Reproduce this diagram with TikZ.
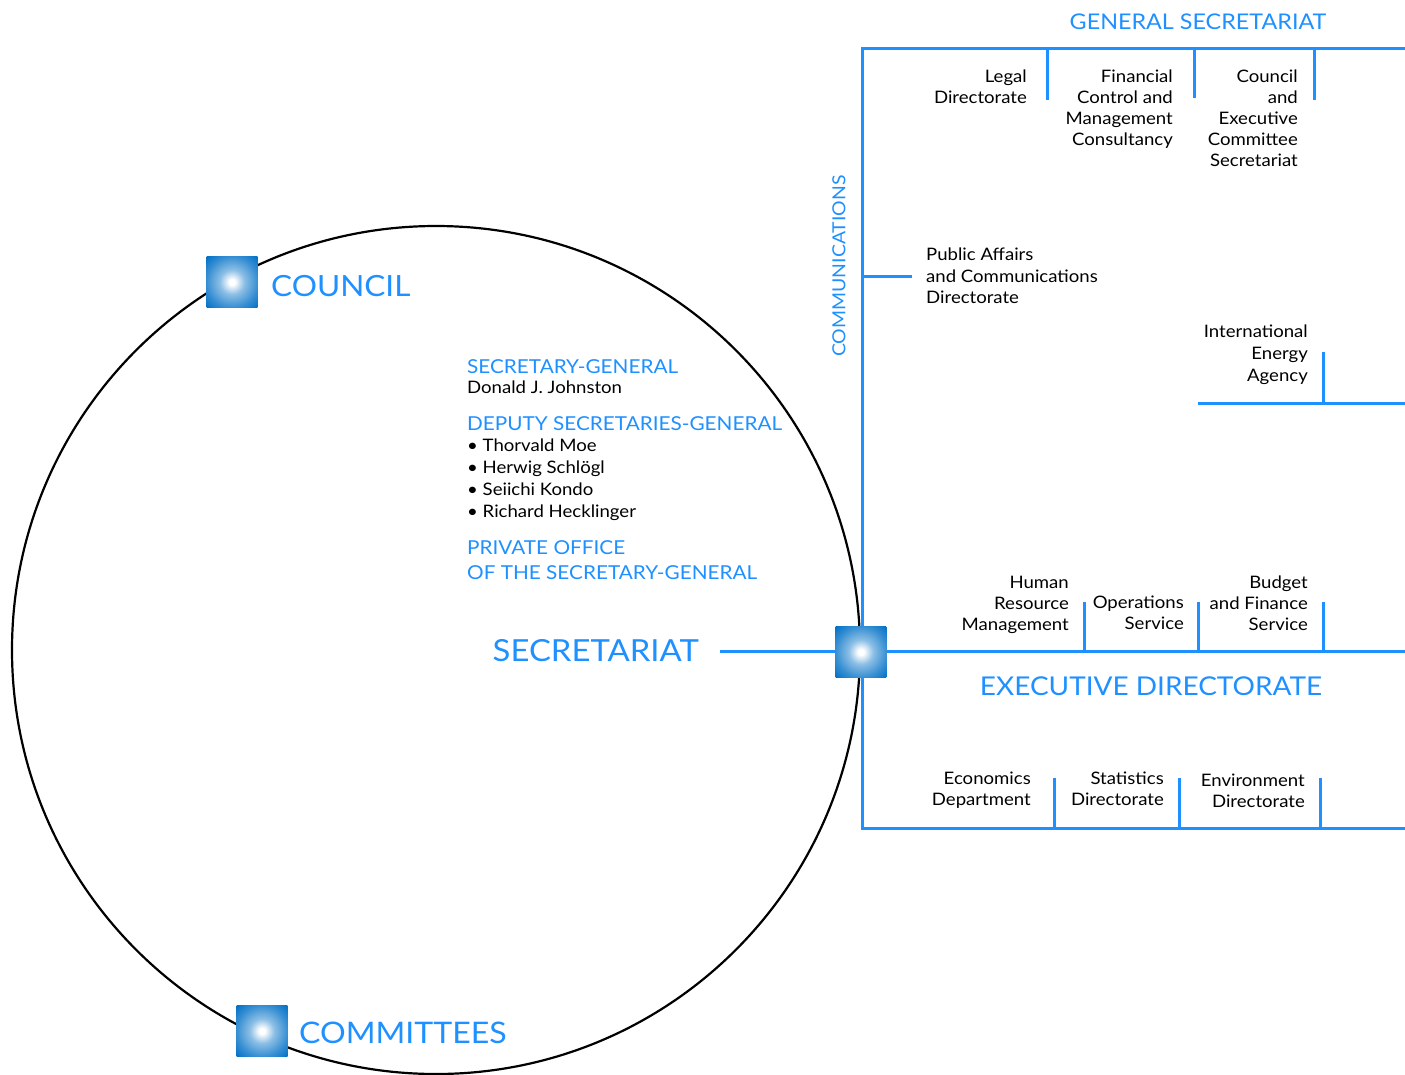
\documentclass[tikz,border=0pt]{standalone}
\usepackage{fontspec}
\setmainfont{Lato}[FakeStretch=1.08]
\definecolor{oblue}{RGB}{30,144,255}
\definecolor{sqblue}{RGB}{0,112,198}
\pgfdeclareradialshading{sqshade}{\pgfpoint{0bp}{0bp}}{color(0bp)=(white); color(2bp)=(white); color(8.5bp)=(sqblue!45!white); color(17.5bp)=(sqblue!78!white); color(25bp)=(sqblue); color(50bp)=(sqblue)}
\begin{document}
\begin{tikzpicture}[x=1pt,y=-1pt,
  lblr/.style={inner sep=0pt, font=\fontsize{17.2}{21}\selectfont, align=right, anchor=north east},
  lbll/.style={inner sep=0pt, font=\fontsize{17.2}{21.5}\selectfont, align=left, anchor=north west},
  big/.style={inner sep=0pt, text=oblue},
  hdr/.style={inner sep=0pt, text=oblue, font=\fontsize{21.6}{25}\selectfont},
  midb/.style={inner sep=0pt, text=oblue, font=\fontsize{19.2}{22}\selectfont, anchor=base west},
  midk/.style={inner sep=0pt, font=\fontsize{17.2}{21}\selectfont, anchor=base west},
  org/.style={draw=oblue, line width=3pt},
  ring/.style={draw=black, line width=2.2pt},
  sq/.style={minimum size=51pt, inner sep=0pt,
    path picture={\shade[shading=sqshade] (path picture bounding box.center) circle[radius=36.07pt];}}]
\useasboundingbox (0,0) rectangle (1405,1074);

% ring
\node[inner sep=0pt, minimum size=848pt, circle, ring] (ringc) at (436,650) {};

% coordinates of the organisation frame
\coordinate (tr) at (1405,48);
\coordinate (tl) at (862,48);
\coordinate (bl) at (862,828);
\coordinate (br) at (1405,828);
\coordinate (secl) at (720,651);
\coordinate (secr) at (1405,651);
\coordinate (comm) at (912,276);
\coordinate (comj) at (862,276);
\coordinate (ieal) at (1198,403);
\coordinate (iear) at (1405,403);

\draw[org, line join=miter] (tr) -- (tl) -- (bl) -- (br);
\draw[org] (comj) -- (comm);
\draw[org] (ieal) -- (iear);
\draw[org] (secl) -- (secr);

% ticks top
\coordinate (t1a) at (1047,48); \coordinate (t1b) at (1047,100);
\coordinate (t2a) at (1194,48); \coordinate (t2b) at (1194,98);
\coordinate (t3a) at (1314,48); \coordinate (t3b) at (1314,100);
\draw[org] (t1a) -- (t1b); \draw[org] (t2a) -- (t2b); \draw[org] (t3a) -- (t3b);
% IEA tick
\coordinate (t4a) at (1323,403); \coordinate (t4b) at (1323,352);
\draw[org] (t4a) -- (t4b);
% ticks middle
\coordinate (t5a) at (1084,651); \coordinate (t5b) at (1084,602);
\coordinate (t6a) at (1198,651); \coordinate (t6b) at (1198,602);
\coordinate (t7a) at (1323,651); \coordinate (t7b) at (1323,602);
\draw[org] (t5a) -- (t5b); \draw[org] (t6a) -- (t6b); \draw[org] (t7a) -- (t7b);
% ticks bottom
\coordinate (t8a) at (1054,828); \coordinate (t8b) at (1054,778);
\coordinate (t9a) at (1179,828); \coordinate (t9b) at (1179,778);
\coordinate (t10a) at (1320,828); \coordinate (t10b) at (1320,778);
\draw[org] (t8a) -- (t8b); \draw[org] (t9a) -- (t9b); \draw[org] (t10a) -- (t10b);

% squares
\node[sq] (councilsq) at (232,282) {};
\node[sq] (committeessq) at (262,1031) {};
\node[sq] (secsq) at (861,652) {};

% big labels
\node[big, anchor=west, font=\fontsize{29.2}{34}\selectfont] (council) at (271,286) {COUNCIL};
\node[big, anchor=west, font=\fontsize{29.7}{34}\selectfont] (committees) at (299,1033) {COMMITTEES};
\node[big, anchor=east, font=\fontsize{30.4}{34}\selectfont] (secretariat) at (699,651) {SECRETARIAT};
\node[big, font=\fontsize{25.9}{32}\selectfont] (execdir) at (1151,686) {EXECUTIVE DIRECTORATE};
\node[hdr] (gensec) at (1198,22) {GENERAL SECRETARIAT};
\node[hdr, font=\fontsize{18}{22}\selectfont, rotate=90] (communications) at (839,266) {COMMUNICATIONS};

% general secretariat units
\node[lblr] (legal) at (1027,70) {Legal\\Directorate};
\node[lblr] (fincon) at (1173,70) {Financial\\Control and\\Management\\Consultancy};
\node[lblr] (cecs) at (1298,70) {Council\\and\\Executive\\Committee\\Secretariat};
\node[lbll] (pubaff) at (926,248) {Public Affairs\\and Communications\\Directorate};
\node[lblr, font=\fontsize{17.2}{22}\selectfont] (iea) at (1308,325) {International\\Energy\\Agency};

% executive directorate units
\node[lblr] (hrm) at (1069,576) {Human\\Resource\\Management};
\node[lblr] (ops) at (1184,596) {Operations\\Service};
\node[lblr] (bfs) at (1308,576) {Budget\\and Finance\\Service};
\node[lblr] (econ) at (1031,772) {Economics\\Department};
\node[lblr] (stat) at (1164,772) {Statistics\\Directorate};
\node[lblr] (env) at (1305,774) {Environment\\Directorate};

% secretary-general block
\node[midb] (sg) at (467,373) {SECRETARY-GENERAL};
\node[midk] (sgname) at (467,393) {Donald J. Johnston};
\node[midb] (dsg) at (467,430) {DEPUTY SECRETARIES-GENERAL};
\node[midk] (d1) at (467,451) {\textbullet\ Thorvald Moe};
\node[midk] (d2) at (467,473) {\textbullet\ Herwig Schlögl};
\node[midk] (d3) at (467,495) {\textbullet\ Seiichi Kondo};
\node[midk] (d4) at (467,517) {\textbullet\ Richard Hecklinger};
\node[midb] (po1) at (467,554) {PRIVATE OFFICE};
\node[midb] (po2) at (467,579) {OF THE SECRETARY-GENERAL};
\end{tikzpicture}
\end{document}
